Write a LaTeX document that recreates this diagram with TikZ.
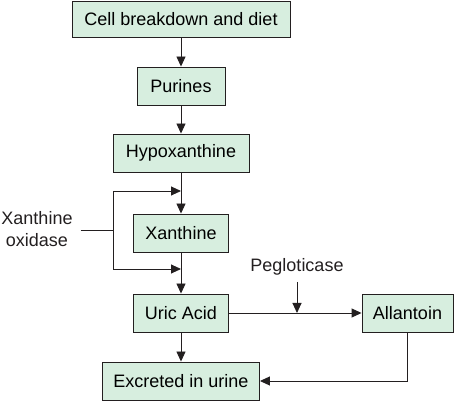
\documentclass[tikz,border=0pt]{standalone}
\usepackage{fontspec}
\setmainfont{Liberation Sans}
\usetikzlibrary{arrows.meta}
\definecolor{boxfill}{RGB}{215,238,223}
\definecolor{ink}{RGB}{35,31,32}
\tikzset{
  box/.style={draw=ink, fill=boxfill, line width=0.9pt, inner sep=0pt, minimum height=38pt},
  arr/.style={draw=ink, line width=0.9pt, -{Triangle[length=10pt,width=9pt]}},
  ln/.style={draw=ink, line width=0.9pt},
  lbl/.style={inner sep=0pt, text=ink}
}
\begin{document}
\begin{tikzpicture}[x=1pt,y=-1pt,font=\fontsize{18}{22}\selectfont]
\useasboundingbox (0,0) rectangle (456,401);
\node[box, minimum width=218pt, minimum height=36pt] (cell) at (181,19) {Cell breakdown and diet};
\node[box, minimum width=88pt] (pur) at (181,86) {Purines};
\node[box, minimum width=136pt] (hyp) at (181,153) {Hypoxanthine};
\node[box, minimum width=95pt] (xan) at (181,233) {Xanthine};
\node[box, minimum width=95pt] (uric) at (181,313) {Uric Acid};
\node[box, minimum width=91pt] (all) at (407.5,313) {Allantoin};
\node[box, minimum width=157pt] (exc) at (181,381) {Excreted in urine};
\node[lbl, align=center] (xo) at (37,229) {Xanthine\\oxidase};
\node[lbl, anchor=base, inner ysep=6pt] (peg) at (297,272) {Pegloticase};
\coordinate (bj) at (113,230);
\coordinate (j1) at (181,191);
\coordinate (j2) at (181,269);
\coordinate (pj) at (297,313);
\draw[arr] (cell) -- (pur);
\draw[arr] (pur) -- (hyp);
\draw[arr] (hyp) -- (xan);
\draw[arr] (xan) -- (uric);
\draw[arr] (uric) -- (exc);
\draw[ln] ([xshift=8pt]xo.east |- bj) -- (bj);
\draw[arr] (bj) |- (j1);
\draw[arr] (bj) |- (j2);
\draw[arr] (uric) -- (all);
\draw[arr] (peg.south) -- (pj);
\draw[arr] (all.south) |- (exc.east);
\end{tikzpicture}
\end{document}
